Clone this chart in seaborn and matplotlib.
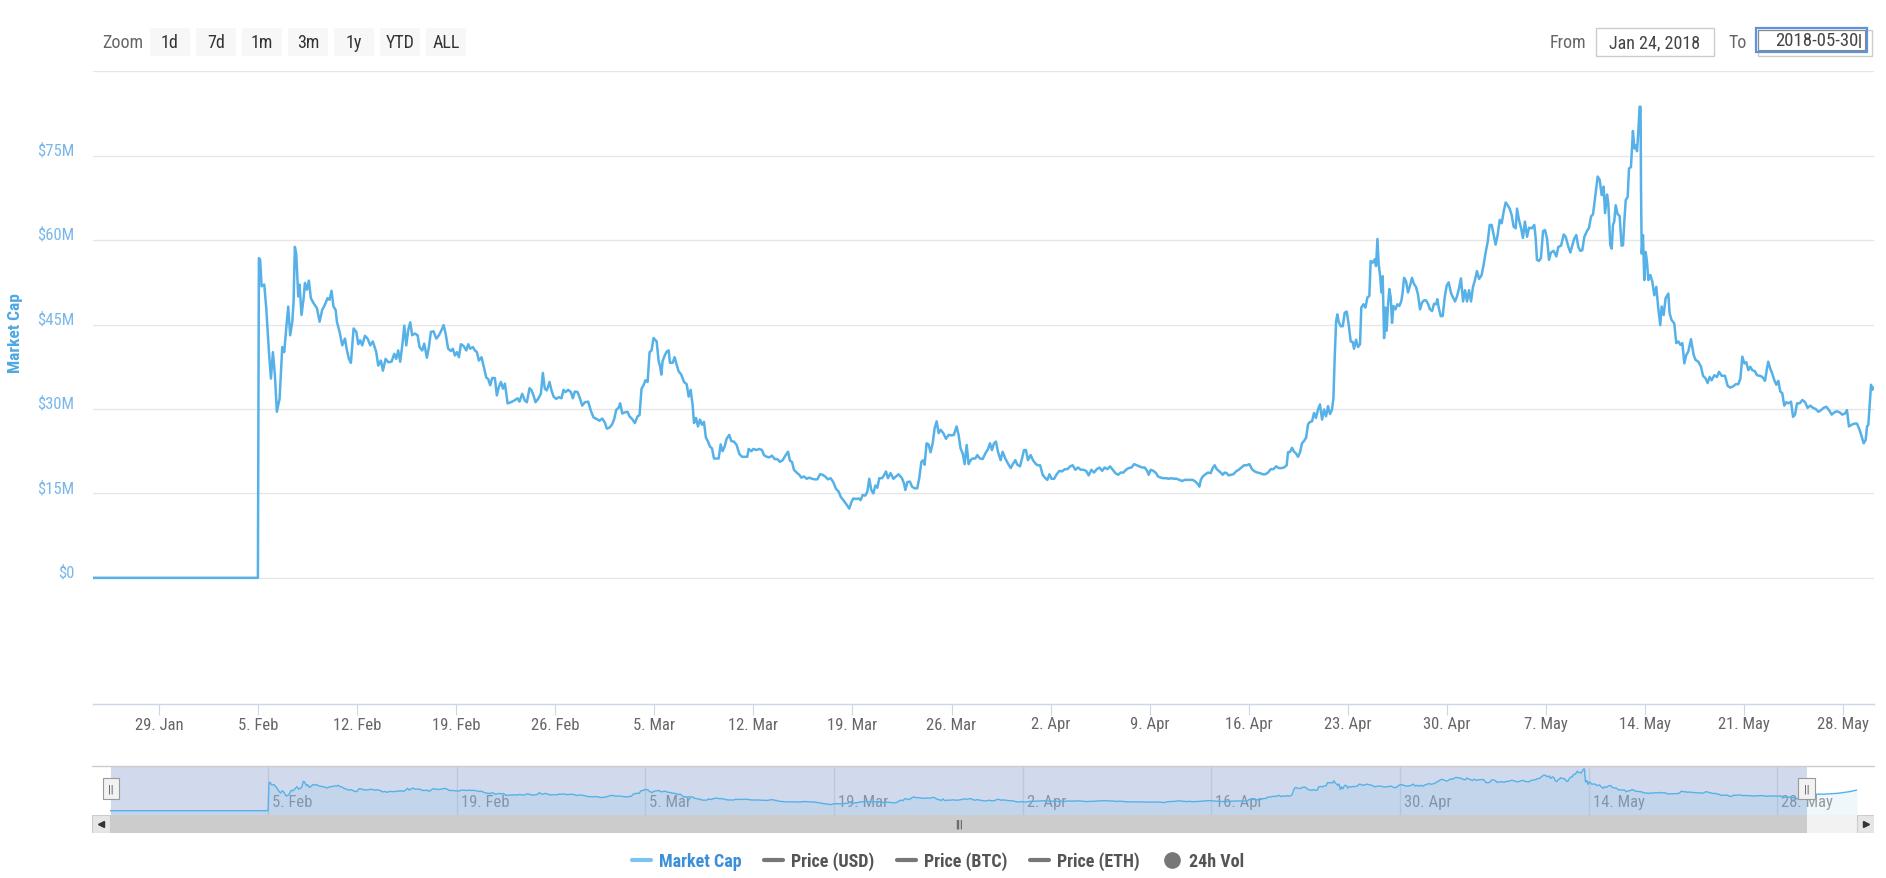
import numpy as np
import pandas as pd
import seaborn as sns
import matplotlib
matplotlib.use("Agg")
import matplotlib.pyplot as plt
import matplotlib.dates as mdates
import matplotlib.transforms as mtransforms
from matplotlib import font_manager
from matplotlib.patches import Rectangle
from matplotlib.lines import Line2D

# ---------------- data (days since 2018-01-24 00:00, market cap in $M) ----------------
START = pd.Timestamp("2018-01-24")

days_feb = [
    0.27, 6.0, 12.0, 12.07, 12.16, 12.26, 12.45, 12.59, 12.78, 12.92,
    13.06, 13.20, 13.34, 13.53, 13.72, 13.86, 14.00, 14.14, 14.28, 14.43,
    14.52, 14.61, 14.71, 14.85, 14.94, 15.08, 15.23, 15.32, 15.46, 15.60,
    15.74, 15.93, 16.17, 16.36, 16.54, 16.73, 16.92, 17.06, 17.20, 17.34,
    17.49, 17.58, 17.77, 17.96, 18.15, 18.29, 18.43, 18.57, 18.76, 18.95,
    19.09, 19.23, 19.37, 19.56, 19.75, 19.94, 20.12, 20.36, 20.50, 20.69,
    20.83, 21.02, 21.21, 21.44, 21.63, 21.77, 21.91, 22.05, 22.20, 22.34,
    22.48, 22.62, 22.76, 22.90, 23.09, 23.28, 23.42, 23.61, 23.75, 23.94,
    24.08, 24.22, 24.41, 24.60, 24.79, 24.97, 25.12, 25.26, 25.44, 25.63,
    25.77, 25.92, 26.06, 26.20, 26.34, 26.53, 26.72, 26.86, 27.00, 27.19,
    27.33, 27.47, 27.61, 27.80, 27.94, 28.13, 28.27, 28.41, 28.55, 28.74,
    28.88, 29.02, 29.17, 29.31, 29.45, 29.64, 29.87, 30.11, 30.34, 30.48,
    30.67, 30.86, 31.00, 31.19, 31.33, 31.47, 31.61, 31.80, 31.99, 32.13,
    32.27, 32.41, 32.60, 32.74, 32.89, 33.07, 33.26, 33.45, 33.59, 33.73,
    33.92, 34.11, 34.25, 34.39, 34.58, 34.72, 34.91, 35.10, 35.33, 35.52,
    35.71, 35.95, 36.13, 36.32, 36.51, 36.65, 36.84, 37.03, 37.17, 37.31,
    37.50, 37.59, 37.74, 37.92, 38.11, 38.25, 38.44, 38.63, 38.82, 38.96,
    39.10, 39.24, 39.38, 39.53, 39.67, 39.81, 39.95,
]
cap_feb = [
    0, 0, 0, 56.8, 56.5, 51.8, 52.1, 47.9, 40.1, 35.4,
    40.1, 36.0, 29.5, 31.8, 41.0, 40.1, 44.3, 48.2, 43.1, 45.5,
    49.1, 58.8, 57.5, 50.0, 52.1, 46.7, 49.7, 52.4, 51.2, 52.8,
    49.7, 48.8, 47.9, 45.5, 47.6, 48.5, 49.7, 49.4, 51.0, 48.2,
    47.6, 45.5, 43.7, 41.3, 42.5, 40.4, 38.9, 38.2, 44.3, 43.7,
    41.5, 42.2, 41.3, 43.0, 42.5, 41.3, 42.0, 40.1, 37.7, 38.6,
    36.8, 38.9, 38.3, 38.4, 39.8, 38.9, 40.4, 38.4, 41.3, 44.8,
    41.3, 44.0, 45.4, 43.1, 43.4, 43.1, 41.0, 40.4, 41.6, 39.1,
    41.0, 43.7, 43.8, 42.5, 43.1, 44.0, 44.9, 43.4, 40.7, 40.3,
    40.7, 39.5, 40.1, 39.2, 41.5, 41.2, 40.4, 41.5, 40.7, 41.0,
    40.4, 40.1, 38.6, 39.2, 37.7, 35.6, 35.3, 34.2, 35.5, 35.5,
    32.4, 33.9, 34.8, 33.6, 34.5, 31.0, 31.2, 31.5, 31.9, 31.3,
    32.7, 31.5, 31.2, 33.7, 33.3, 32.4, 31.2, 31.8, 32.7, 36.4,
    33.6, 33.3, 34.8, 33.3, 32.2, 31.8, 32.1, 31.9, 33.4, 33.0,
    33.4, 33.0, 31.9, 33.1, 33.0, 32.1, 30.6, 31.2, 31.3, 29.7,
    28.5, 28.2, 27.9, 28.3, 27.6, 26.5, 26.7, 27.3, 28.2, 29.8,
    30.3, 31.0, 29.2, 29.4, 29.5, 28.7, 28.2, 27.5, 28.7, 28.9,
    33.6, 34.2, 35.1, 34.8, 40.1, 40.4, 42.6,
]

days_mar = [
    40.17, 40.31, 40.41, 40.50, 40.59, 40.74, 40.88, 41.02, 41.11, 41.30,
    41.44, 41.58, 41.72, 41.91, 42.10, 42.29, 42.43, 42.57, 42.71, 42.81,
    42.95, 43.09, 43.23, 43.37, 43.51, 43.65, 43.80, 43.94, 44.08, 44.22,
    44.41, 44.55, 44.69, 44.83, 44.97, 45.11, 45.30, 45.44, 45.63, 45.82,
    46.01, 46.20, 46.39, 46.57, 46.67, 46.86, 47.00, 47.23, 47.42, 47.61,
    47.75, 47.94, 48.13, 48.32, 48.51, 48.69, 48.88, 49.07, 49.26, 49.45,
    49.59, 49.73, 49.87, 50.06, 50.25, 50.39, 50.58, 50.77, 50.95, 51.14,
    51.33, 51.52, 51.71, 51.90, 52.08, 52.27, 52.46, 52.65, 52.84, 53.03,
    53.17, 53.36, 53.59, 53.78, 53.92, 54.06, 54.25, 54.44, 54.58, 54.72,
    54.91, 55.05, 55.19, 55.33, 55.48, 55.62, 55.76, 55.90, 56.09, 56.23,
    56.37, 56.51, 56.70, 56.89, 57.08, 57.26, 57.50, 57.64, 57.74, 57.88,
    58.06, 58.21, 58.40, 58.58, 58.72, 58.87, 59.01, 59.10, 59.24, 59.38,
    59.52, 59.67, 59.81, 59.95, 60.09, 60.23, 60.42, 60.61, 60.80, 60.98,
    61.17, 61.36, 61.50, 61.64, 61.79, 61.93, 62.07, 62.21, 62.35, 62.49,
    62.68, 62.82, 63.01, 63.20, 63.39, 63.58, 63.72, 63.86, 64.00, 64.14,
    64.28, 64.47, 64.61, 64.80, 64.99, 65.18, 65.36, 65.51, 65.65, 65.84,
    65.98, 66.12, 66.26, 66.40, 66.59, 66.78, 66.97,
]
cap_mar = [
    42.0, 38.5, 37.6, 36.1, 38.5, 39.5, 40.2, 40.4, 38.2, 38.2,
    39.2, 37.9, 36.7, 36.1, 34.8, 34.4, 32.2, 33.4, 30.7, 27.5,
    28.4, 26.9, 28.1, 27.2, 27.7, 24.9, 24.2, 23.3, 23.0, 21.2,
    21.2, 21.2, 23.7, 22.5, 23.3, 24.7, 25.4, 24.3, 24.2, 23.6,
    22.0, 21.5, 21.5, 21.5, 22.9, 22.5, 22.9, 22.7, 22.9, 22.7,
    21.8, 21.5, 21.4, 21.7, 21.1, 21.1, 20.6, 20.9, 21.7, 22.4,
    20.8, 20.6, 19.2, 18.7, 18.3, 17.8, 18.0, 17.6, 17.8, 17.6,
    17.5, 17.5, 18.4, 18.3, 18.0, 17.5, 17.7, 17.0, 15.8, 15.3,
    14.4, 13.8, 13.0, 12.3, 13.4, 14.1, 14.0, 14.1, 13.8, 14.7,
    14.6, 15.3, 17.6, 15.6, 15.0, 16.4, 16.0, 17.7, 17.7, 18.2,
    18.9, 17.7, 18.6, 17.6, 18.0, 18.4, 17.7, 16.8, 15.6, 17.0,
    17.1, 16.2, 15.9, 15.9, 17.7, 20.6, 20.9, 20.1, 23.9, 23.7,
    22.3, 23.9, 26.6, 27.8, 25.7, 26.3, 25.7, 24.7, 25.4, 25.3,
    25.4, 26.9, 25.4, 23.0, 22.1, 20.2, 23.6, 20.2, 20.9, 21.2,
    21.2, 21.8, 21.2, 21.1, 22.1, 22.9, 23.9, 22.7, 23.9, 24.2,
    22.4, 20.9, 22.4, 21.2, 20.3, 19.5, 20.3, 20.9, 20.1, 19.8,
    21.2, 22.7, 22.7, 20.9, 21.8, 20.8, 20.2,
]

days_apr = [
    67.07, 67.26, 67.44, 67.63, 67.77, 67.92, 68.06, 68.25, 68.43, 68.62,
    68.81, 69.00, 69.19, 69.38, 69.56, 69.75, 69.94, 70.13, 70.32, 70.51,
    70.69, 70.88, 71.07, 71.26, 71.45, 71.64, 71.82, 72.01, 72.20, 72.39,
    72.58, 72.77, 72.95, 73.14, 73.33, 73.52, 73.71, 73.90, 74.08, 74.27,
    74.46, 74.65, 74.84, 74.93, 75.07, 75.26, 75.45, 75.59, 75.78, 75.97,
    76.16, 76.35, 76.53, 76.72, 76.91, 77.10, 77.29, 77.48, 77.66, 77.85,
    78.04, 78.23, 78.42, 78.51, 78.61, 78.75, 78.94, 79.12, 79.31, 79.45,
    79.59, 79.74, 79.88, 80.02, 80.16, 80.30, 80.44, 80.58, 80.72, 80.91,
    81.10, 81.29, 81.48, 81.67, 81.86, 82.04, 82.23, 82.42, 82.61, 82.80,
    82.98, 83.17, 83.36, 83.55, 83.74, 83.93, 84.12, 84.30, 84.49, 84.68,
    84.77, 84.92, 85.06, 85.20, 85.34, 85.48, 85.62, 85.76, 85.90, 86.05,
    86.19, 86.33, 86.47, 86.61, 86.75, 86.89, 87.03, 87.18, 87.32, 87.46,
    87.60, 87.74, 87.88, 87.98, 88.07, 88.17, 88.26, 88.35, 88.50, 88.64,
    88.78, 88.92, 89.06, 89.20, 89.34, 89.44, 89.58, 89.72, 89.86, 89.95,
    90.10, 90.24, 90.38, 90.52, 90.61, 90.76, 90.90, 90.99, 91.09, 91.18,
    91.28, 91.37, 91.46, 91.56, 91.65, 91.74, 91.84, 91.93, 92.03, 92.12,
    92.22, 92.36, 92.50, 92.64, 92.78, 92.87, 92.97, 93.11, 93.25, 93.39,
    93.53, 93.67, 93.81, 93.95, 94.10, 94.24, 94.38, 94.52, 94.66, 94.80,
    94.95, 95.09, 95.23, 95.32, 95.42, 95.56, 95.70, 95.84, 95.98, 96.12,
    96.30,
]
cap_apr = [
    20.0, 20.0, 18.3, 17.7, 17.4, 18.4, 17.6, 17.6, 18.4, 19.0,
    18.9, 19.3, 19.3, 19.8, 20.0, 19.2, 19.6, 19.2, 19.2, 19.0,
    18.2, 19.2, 18.7, 19.3, 19.6, 19.0, 19.6, 19.3, 19.8, 19.2,
    18.6, 18.3, 18.7, 18.7, 19.2, 19.5, 19.6, 20.2, 20.0, 19.8,
    19.6, 19.6, 18.9, 18.3, 19.2, 19.0, 18.6, 18.0, 17.8, 17.7,
    17.7, 17.6, 17.7, 17.6, 17.6, 17.4, 17.2, 17.4, 17.4, 17.4,
    17.4, 17.1, 16.6, 16.2, 17.4, 18.0, 18.4, 18.7, 18.6, 19.5,
    20.0, 19.3, 19.0, 18.7, 18.3, 18.7, 18.6, 18.2, 18.3, 18.4,
    18.9, 19.2, 19.6, 20.0, 20.0, 20.2, 19.3, 18.9, 18.7, 18.6,
    18.4, 18.4, 18.7, 19.3, 19.3, 19.8, 19.5, 19.5, 19.6, 20.0,
    22.3, 22.4, 23.1, 22.4, 22.1, 21.5, 22.3, 23.9, 24.3, 24.9,
    27.3, 27.7, 27.8, 29.3, 28.4, 29.9, 30.8, 28.1, 29.9, 28.7,
    30.5, 29.1, 29.9, 31.9, 39.1, 45.6, 46.8, 45.5, 44.7, 44.7,
    47.1, 47.3, 45.0, 42.0, 41.9, 40.7, 42.3, 41.0, 41.5, 48.0,
    48.6, 48.0, 49.8, 50.1, 56.3, 56.0, 56.6, 55.4, 60.2, 55.7,
    53.6, 50.7, 53.6, 42.6, 48.0, 43.9, 48.6, 51.3, 49.8, 45.3,
    48.3, 47.7, 48.6, 48.3, 49.2, 50.7, 53.3, 52.7, 50.7, 51.9,
    53.3, 52.2, 51.7, 50.4, 47.7, 48.9, 49.3, 49.3, 48.7, 47.7,
    47.4, 48.7, 48.6, 49.5, 48.0, 46.5, 46.5, 49.8, 51.9, 52.5,
    50.5,
]

days_may = [
    96.57, 96.71, 96.85, 96.99, 97.14, 97.28, 97.42, 97.56, 97.70, 97.84,
    97.98, 98.12, 98.27, 98.45, 98.59, 98.74, 98.88, 99.02, 99.16, 99.30,
    99.44, 99.58, 99.73, 99.87, 100.01, 100.15, 100.29, 100.43, 100.57, 100.71,
    100.86, 100.95, 101.09, 101.23, 101.37, 101.51, 101.66, 101.80, 101.99, 102.17,
    102.27, 102.36, 102.50, 102.64, 102.79, 102.93, 103.07, 103.21, 103.35, 103.54,
    103.73, 103.87, 104.06, 104.25, 104.39, 104.58, 104.72, 104.86, 105.00, 105.14,
    105.28, 105.42, 105.56, 105.71, 105.89, 106.04, 106.18, 106.32, 106.46, 106.65,
    106.79, 106.93, 107.07, 107.17, 107.31, 107.40, 107.54, 107.64, 107.73, 107.82,
    107.92, 108.06, 108.20, 108.34, 108.44, 108.53, 108.63, 108.77, 108.86, 109.00,
    109.14, 109.24, 109.33, 109.43, 109.52, 109.61, 109.68, 109.71, 109.76, 109.85,
    109.94, 110.04, 110.13, 110.23, 110.37, 110.51, 110.65, 110.79, 110.93, 111.07,
    111.17, 111.31, 111.45, 111.64, 111.73, 111.87, 112.06, 112.20, 112.35, 112.49,
    112.63, 112.77, 112.91, 113.05, 113.24, 113.43, 113.57, 113.76, 113.95, 114.09,
    114.28, 114.42, 114.56, 114.70, 114.89, 115.08, 115.22, 115.41, 115.64, 115.83,
    116.02, 116.21, 116.40, 116.58, 116.73, 116.87, 117.01, 117.15, 117.29, 117.43,
    117.57, 117.76, 117.90, 118.09, 118.28, 118.47, 118.61, 118.70, 118.84, 118.99,
    119.13, 119.27, 119.41, 119.55, 119.69, 119.83, 119.98, 120.12, 120.31, 120.45,
    120.59, 120.73, 120.92, 121.11, 121.30, 121.48, 121.67, 121.86, 122.05, 122.24,
    122.43, 122.61, 122.80, 122.99, 123.18, 123.37, 123.55, 123.74, 123.93, 124.12,
    124.26, 124.40, 124.59, 124.78, 124.97, 125.15, 125.30, 125.44, 125.58, 125.68,
    125.77, 125.86, 125.96, 126.05, 126.14, 126.5, 127.5, 128.5, 129.3, 129.9,
]
cap_may = [
    49.1, 50.0, 51.4, 53.2, 49.1, 51.1, 49.1, 51.1, 49.1, 51.7,
    52.9, 54.5, 53.1, 53.8, 55.6, 57.9, 59.7, 62.7, 62.7, 60.9,
    59.2, 60.9, 63.6, 63.0, 65.1, 66.7, 66.2, 65.6, 64.5, 62.4,
    62.1, 65.6, 63.6, 62.2, 60.4, 63.3, 60.6, 62.2, 62.1, 62.7,
    60.3, 56.5, 56.3, 56.8, 61.6, 61.8, 60.3, 56.5, 57.8, 58.1,
    57.1, 58.8, 59.0, 61.0, 60.6, 58.8, 57.8, 59.1, 60.3, 60.9,
    58.8, 58.1, 58.2, 60.6, 61.6, 62.2, 64.2, 64.6, 67.4, 71.3,
    70.7, 68.0, 69.5, 64.8, 68.1, 66.5, 59.1, 58.5, 62.7, 63.3,
    66.2, 64.6, 64.3, 59.0, 59.1, 63.3, 67.1, 67.7, 72.7, 73.0,
    79.4, 76.3, 76.9, 75.8, 79.3, 83.7, 83.7, 69.2, 57.6, 60.9,
    52.9, 57.9, 56.2, 52.9, 53.8, 52.6, 50.2, 51.7, 47.9, 44.9,
    48.2, 46.7, 49.7, 50.5, 47.0, 45.8, 45.2, 41.7, 42.0, 41.4,
    41.7, 38.1, 39.6, 40.2, 42.4, 39.6, 38.7, 38.4, 37.5, 35.9,
    35.4, 34.6, 35.7, 35.1, 36.0, 35.7, 36.6, 35.9, 35.9, 34.1,
    33.8, 34.0, 34.4, 34.4, 35.4, 39.3, 38.1, 38.3, 36.9, 37.5,
    36.9, 36.7, 36.0, 35.9, 35.7, 35.0, 37.2, 38.4, 37.2, 36.2,
    35.1, 34.3, 35.0, 33.1, 32.8, 30.6, 31.2, 31.0, 31.3, 28.6,
    29.0, 31.0, 31.0, 31.6, 31.2, 30.2, 30.6, 30.2, 30.0, 29.5,
    29.8, 30.2, 30.4, 29.8, 29.0, 29.4, 29.6, 29.4, 29.0, 29.2,
    29.8, 26.9, 27.2, 27.4, 27.4, 26.3, 25.1, 23.9, 24.5, 26.9,
    27.2, 30.7, 34.3, 33.4, 33.8, 33.0, 33.2, 35.0, 38.0, 41.5,
]

view_from_day = 0.35
view_to_day = 126.17

y_ticks = [0, 15, 30, 45, 60, 75, 90]
y_tick_labels = ["$0", "$15M", "$30M", "$45M", "$60M", "$75M", ""]
x_ticks = ["2018-01-29", "2018-02-05", "2018-02-12", "2018-02-19", "2018-02-26",
           "2018-03-05", "2018-03-12", "2018-03-19", "2018-03-26", "2018-04-02",
           "2018-04-09", "2018-04-16", "2018-04-23", "2018-04-30", "2018-05-07",
           "2018-05-14", "2018-05-21", "2018-05-28"]
x_tick_labels = ["29. Jan", "5. Feb", "12. Feb", "19. Feb", "26. Feb", "5. Mar",
                 "12. Mar", "19. Mar", "26. Mar", "2. Apr", "9. Apr", "16. Apr",
                 "23. Apr", "30. Apr", "7. May", "14. May", "21. May", "28. May"]
nav_ticks = ["2018-02-05", "2018-02-19", "2018-03-05", "2018-03-19", "2018-04-02",
             "2018-04-16", "2018-04-30", "2018-05-14", "2018-05-28"]
nav_tick_labels = ["5. Feb", "19. Feb", "5. Mar", "19. Mar", "2. Apr",
                   "16. Apr", "30. Apr", "14. May", "28. May"]
zoom_buttons = ["1d", "7d", "1m", "3m", "1y", "YTD", "ALL"]
legend_labels = ["Market Cap", "Price (USD)", "Price (BTC)", "Price (ETH)", "24h Vol"]

# ---------------- style ----------------
sns.set_theme(style="white")
avail = {f.name for f in font_manager.fontManager.ttflist}
FONT = "DejaVu Sans"
for cand in ["Liberation Sans Narrow", "Roboto Condensed", "Open Sans Condensed", "Liberation Sans"]:
    if cand in avail:
        FONT = cand
        break
plt.rcParams["font.family"] = [FONT, "DejaVu Sans"]

W, H = 1886, 879
BLUE = "#55b1e8"
TXT = 13
fig = plt.figure(figsize=(W / 100, H / 100), dpi=100)
fig.patch.set_facecolor("white")


def fx(px):
    return px / W


def fy(py):
    return 1 - py / H


days_all = days_feb + days_mar + days_apr + days_may
cap_all = cap_feb + cap_mar + cap_apr + cap_may
assert len(days_all) == len(cap_all)
df = pd.DataFrame({"date": START + pd.to_timedelta(days_all, unit="D"), "cap": cap_all})
view_from = START + pd.Timedelta(days=view_from_day)
view_to = START + pd.Timedelta(days=view_to_day)

# ---------------- main chart ----------------
ax = fig.add_axes([fx(93), fy(705), fx(1874 - 93), (705 - 72) / H])
sns.lineplot(data=df, x="date", y="cap", ax=ax, color=BLUE, linewidth=1.8,
             estimator=None, sort=False, zorder=3)
ax.set_xlim(view_from, view_to)
ax.set_ylim(-22.42, 90.05)
ax.set_xlabel("")
ax.set_ylabel("")
ax.set_yticks(y_ticks)
ax.set_yticklabels(y_tick_labels)
ax.set_xticks(pd.to_datetime(x_ticks))
ax.set_xticklabels(x_tick_labels)
ax.yaxis.grid(True, color="#e6e6e6", linewidth=1)
ax.xaxis.grid(False)
for s in ["top", "right", "left"]:
    ax.spines[s].set_visible(False)
ax.spines["bottom"].set_color("#ccd6eb")
ax.spines["bottom"].set_linewidth(1)
ax.tick_params(axis="x", length=8, width=0.8, color="#ccd6eb", labelcolor="#666666",
               labelsize=12, pad=1.0, bottom=True)
ax.tick_params(axis="y", length=0, labelcolor="#7ab6ea", labelsize=12, pad=13.5)
off = mtransforms.ScaledTranslation(0, 0.075, fig.dpi_scale_trans)
for lbl in ax.get_yticklabels():
    lbl.set_transform(lbl.get_transform() + off)

fig.text(fx(16), fy(333), "Market Cap", rotation=90, ha="center", va="center",
         color="#4fa8e3", fontsize=12.5, fontweight="bold")

# ---------------- navigator ----------------
nav = fig.add_axes([fx(110), fy(816), fx(1857 - 110), (816 - 766.7) / H])
sns.lineplot(data=df, x="date", y="cap", ax=nav, color=BLUE, linewidth=1.0,
             estimator=None, sort=False, zorder=3)
nav_lo = -8.6
nav.fill_between(mdates.date2num(df["date"]), df["cap"], nav_lo, color=BLUE,
                 alpha=0.1, linewidth=0, zorder=2)
dmin, dmax = df["date"].min(), df["date"].max()
nav.set_xlim(dmin, dmax)
nav.set_ylim(nav_lo, 90.3)
nav.set_xlabel("")
nav.set_ylabel("")
nav.set_yticks([])
nav.set_xticks(pd.to_datetime(nav_ticks))
nav.set_xticklabels(nav_tick_labels)
nav.set_axisbelow(True)
nav.xaxis.grid(True, color="#e6e6e6", linewidth=1)
for s in nav.spines.values():
    s.set_visible(False)
nav.tick_params(axis="x", length=0, labelsize=12, labelcolor="#999999", pad=-15)
noff = mtransforms.ScaledTranslation(0.04, 0, fig.dpi_scale_trans)
for lbl in nav.get_xticklabels():
    lbl.set_horizontalalignment("left")
    lbl.set_transform(lbl.get_transform() + noff)
nav.axvspan(mdates.date2num(view_from), mdates.date2num(view_to),
            color=(102 / 255, 133 / 255, 194 / 255), alpha=0.3, linewidth=0, zorder=1)
blend = mtransforms.blended_transform_factory(nav.transData, nav.transAxes)
for d in [view_from, view_to]:
    nav.text(mdates.date2num(d), 0.53, "||", transform=blend, ha="center", va="center",
             fontsize=8, color="#444444", clip_on=False, zorder=6,
             bbox=dict(boxstyle="square,pad=0.5", fc="#f2f2f2", ec="#999999", lw=0.8))
fig.add_artist(Line2D([fx(92), fx(1874)], [fy(766.5), fy(766.5)], transform=fig.transFigure,
                      color="#cccccc", linewidth=1))

# ---------------- scrollbar ----------------
sb = fig.add_axes([fx(92), fy(834), fx(1874 - 92), 18 / H])
n0, n1 = mdates.date2num(dmin), mdates.date2num(dmax)
px_per_day = (1857 - 110) / (n1 - n0)
s0, s1 = n0 - 18 / px_per_day, n1 + 17 / px_per_day
sb.set_xlim(s0, s1)
sb.set_ylim(0, 1)
sb.set_facecolor("#f2f2f2")
for s in sb.spines.values():
    s.set_visible(False)
sb.set_xticks([])
sb.set_yticks([])
v0, v1 = mdates.date2num(view_from), mdates.date2num(view_to)
sb.axvspan(v0, v1, color="#cccccc", linewidth=0)
sb.axvspan(s0, n0, facecolor="#e6e6e6", edgecolor="#cccccc", linewidth=0.8)
sb.axvspan(n1, s1, facecolor="#e6e6e6", edgecolor="#cccccc", linewidth=0.8)
sb.plot([(s0 + n0) / 2], [0.5], marker="<", color="#333333", markersize=4, ls="none")
sb.plot([(s1 + n1) / 2], [0.5], marker=">", color="#333333", markersize=4, ls="none")
sb.text((v0 + v1) / 2, 0.5, "|||", ha="center", va="center", fontsize=7, color="#333333")

# ---------------- range selector / inputs ----------------
def fig_rect(x0, y0, x1, y1, **kw):
    r = Rectangle((fx(x0), fy(y1)), fx(x1 - x0), (y1 - y0) / H, transform=fig.transFigure, **kw)
    fig.add_artist(r)


fig.text(fx(102), fy(43), "Zoom", ha="left", va="center", color="#666666", fontsize=TXT)
for i, b in enumerate(zoom_buttons):
    x0 = 150 + i * 46
    fig_rect(x0, 29, x0 + 40, 57, facecolor="#f7f7f7", edgecolor="none")
    fig.text(fx(x0 + 20), fy(43), b, ha="center", va="center", color="#333333", fontsize=TXT)

fig.text(fx(1550), fy(43), "From", ha="left", va="center", color="#666666", fontsize=TXT)
fig_rect(1596, 29, 1714, 57, facecolor="white", edgecolor="#cccccc", linewidth=1)
fig.text(fx(1655), fy(43), view_from.strftime("%b %d, %Y"), ha="center", va="center",
         color="#444444", fontsize=TXT)
fig.text(fx(1728), fy(43), "To", ha="left", va="center", color="#666666", fontsize=TXT)
fig_rect(1758, 31, 1872, 57, facecolor="white", edgecolor="#cccccc", linewidth=1)
fig_rect(1756, 29, 1867, 53, facecolor="none", edgecolor="#5b93e0", linewidth=1.6)
fig_rect(1758, 31, 1865, 51, facecolor="none", edgecolor="#888888", linewidth=0.8)
fig.text(fx(1858), fy(41), view_to.strftime("%Y-%m-%d"), ha="right", va="center",
         color="#444444", fontsize=13.5)
fig.text(fx(1860), fy(41), "|", ha="center", va="center", color="#222222", fontsize=12)

# ---------------- legend ----------------
handles = [Line2D([], [], color="#7cc3ef", linewidth=3),
           Line2D([], [], color="#777777", linewidth=3),
           Line2D([], [], color="#777777", linewidth=3),
           Line2D([], [], color="#777777", linewidth=3),
           Line2D([], [], color="#777777", ls="none", marker="o", markersize=11)]
leg = fig.legend(handles, legend_labels, loc="center", bbox_to_anchor=(fx(938), fy(862)),
                 ncol=5, frameon=False, prop={"weight": "bold", "size": 13},
                 handlelength=1.05, handletextpad=0.45, columnspacing=1.25)
for t, c in zip(leg.get_texts(), ["#3b8fd8", "#555555", "#555555", "#555555", "#555555"]):
    t.set_color(c)

fig.savefig("out.png", dpi=100, facecolor="white")
